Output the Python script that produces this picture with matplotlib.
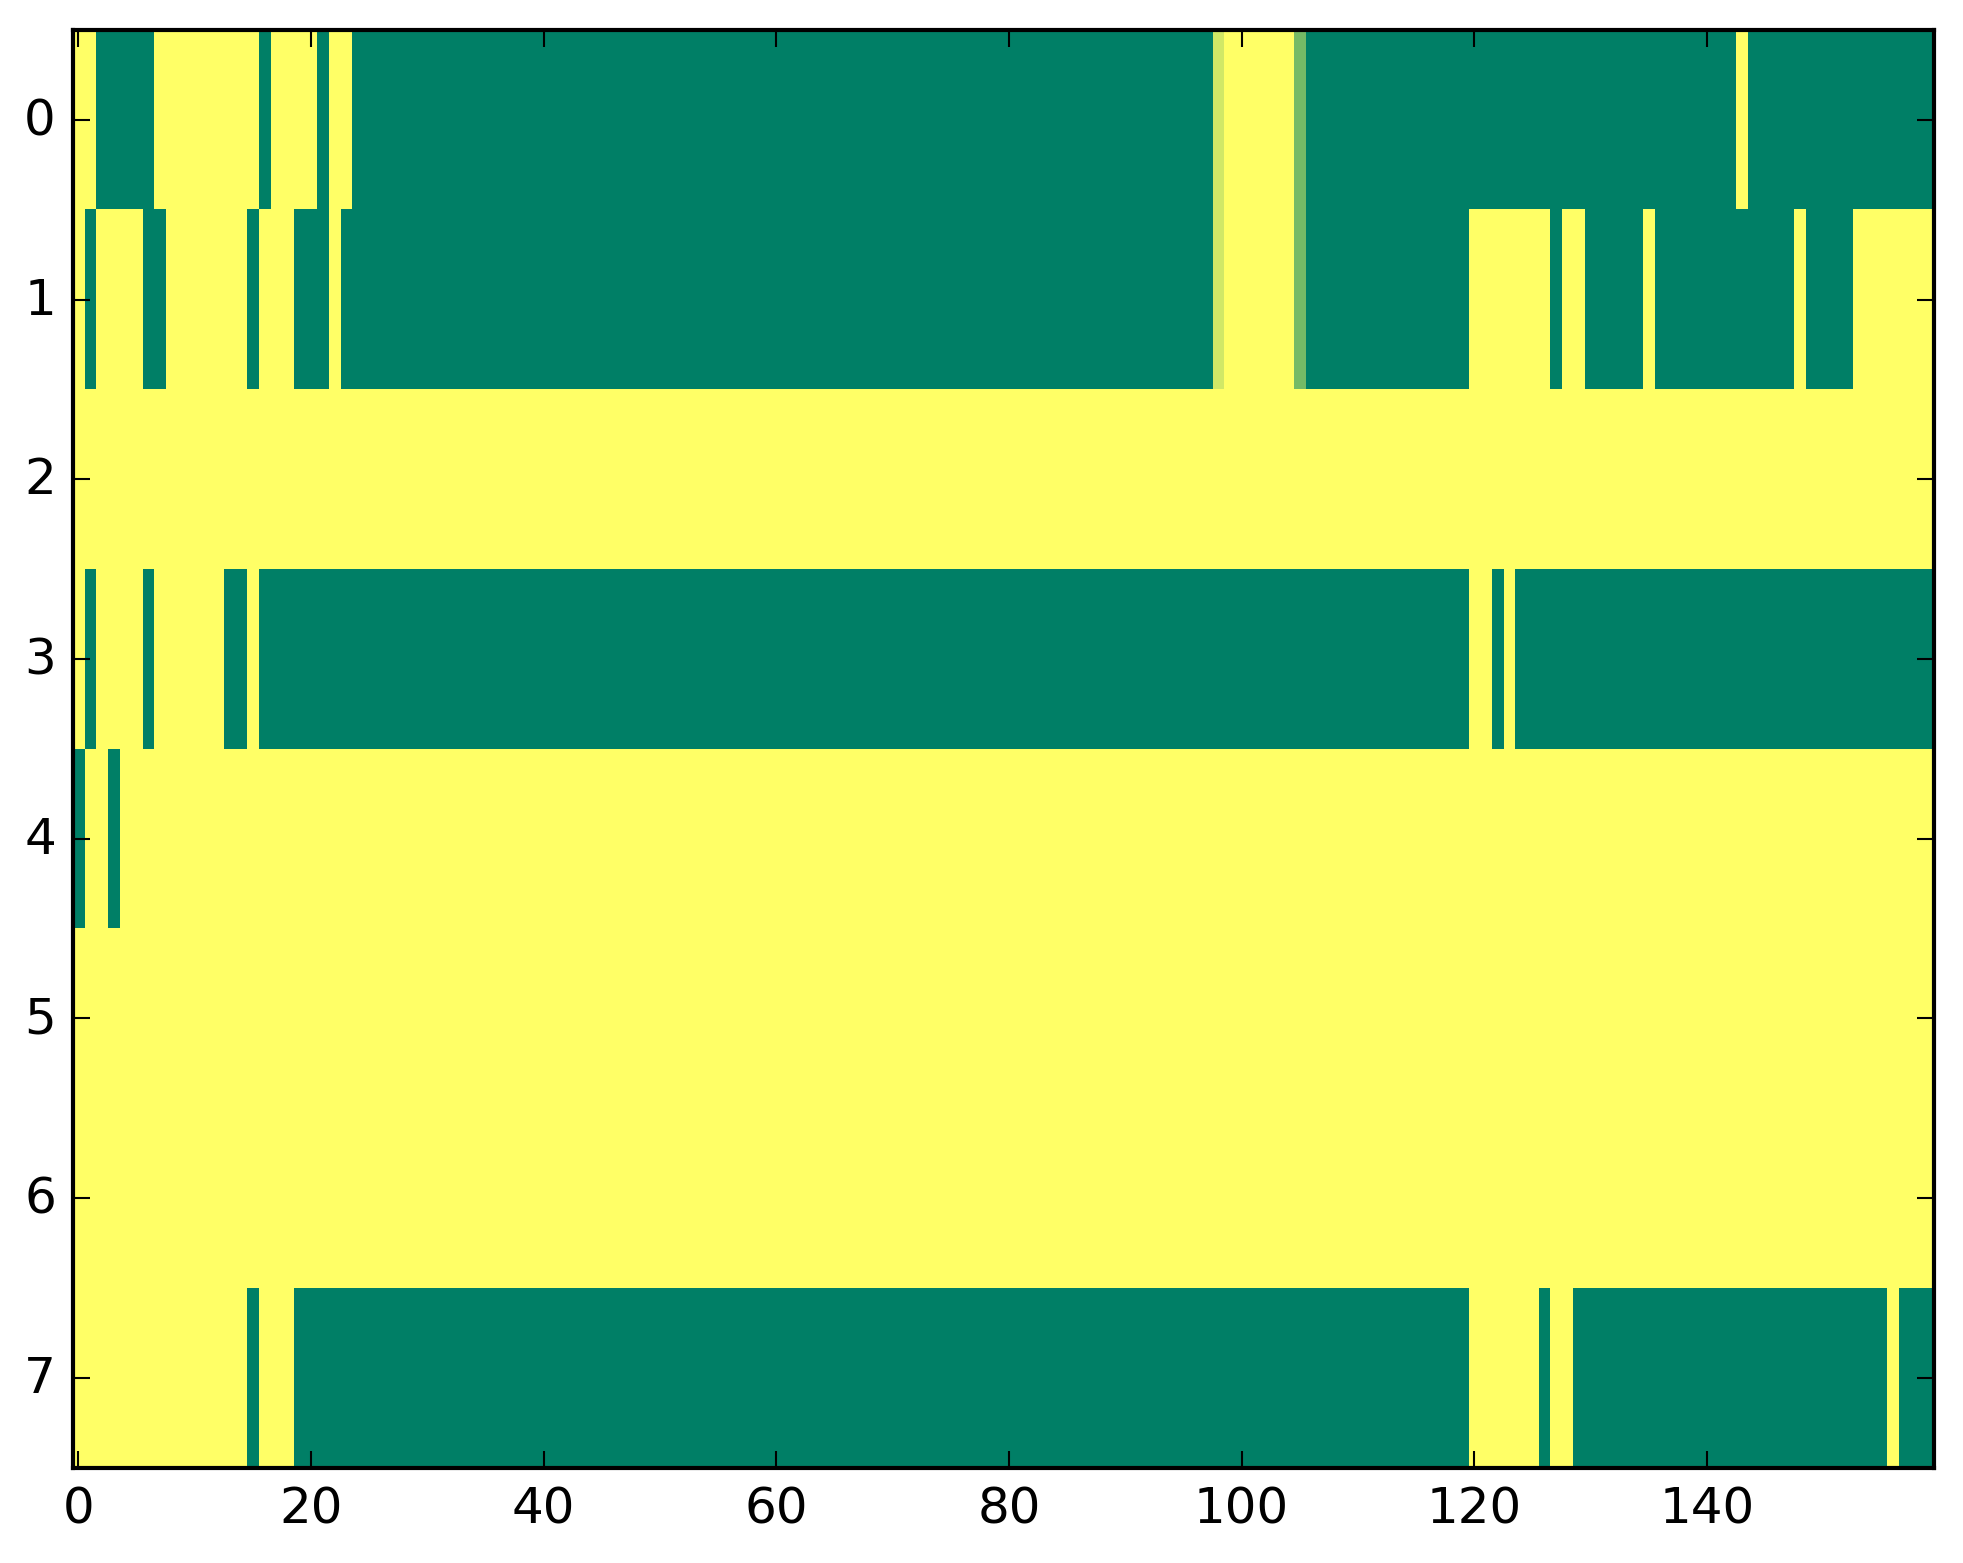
import numpy as np
import matplotlib
matplotlib.use("Agg")
import matplotlib.pyplot as plt

plt.style.use('classic')

# grid size
n_rows = 8
n_cols = 160

# columns that are 0 (green) in each row, as inclusive (start, end) runs; the rest is 1 (yellow)
green_runs = {
    0: [(2, 6), (16, 16), (21, 21), (24, 97), (106, 142), (144, 159)],
    1: [(1, 1), (6, 7), (15, 15), (19, 21), (23, 97), (106, 119), (127, 127),
        (130, 134), (136, 147), (149, 152)],
    2: [],
    3: [(1, 1), (6, 6), (13, 14), (16, 119), (122, 122), (124, 159)],
    4: [(0, 0), (3, 3)],
    5: [],
    6: [],
    7: [(15, 15), (19, 119), (126, 126), (129, 155), (157, 159)],
}

# the few cells with an in-between value: (row, col, value)
partial_cells = [(0, 98, 0.82), (1, 98, 0.82), (0, 105, 0.46), (1, 105, 0.46)]

#%% build the matrix
data = np.ones((n_rows, n_cols))
for r, runs in green_runs.items():
    for a, b in runs:
        data[r, a:b + 1] = 0.0
for r, c, v in partial_cells:
    data[r, c] = v

#%% plot
fig = plt.figure(figsize=(1963 / 300, 1564 / 300), dpi=300, facecolor='white')
ax = fig.add_axes([0.037, 0.061, 0.948, 0.919])
ax.imshow(data, cmap='summer', aspect='auto', interpolation='nearest', vmin=0, vmax=1)
ax.set_xticks(np.arange(0, 141, 20))
ax.set_yticks(np.arange(0, 8))

fig.savefig('out.png', dpi=300, facecolor='white')
